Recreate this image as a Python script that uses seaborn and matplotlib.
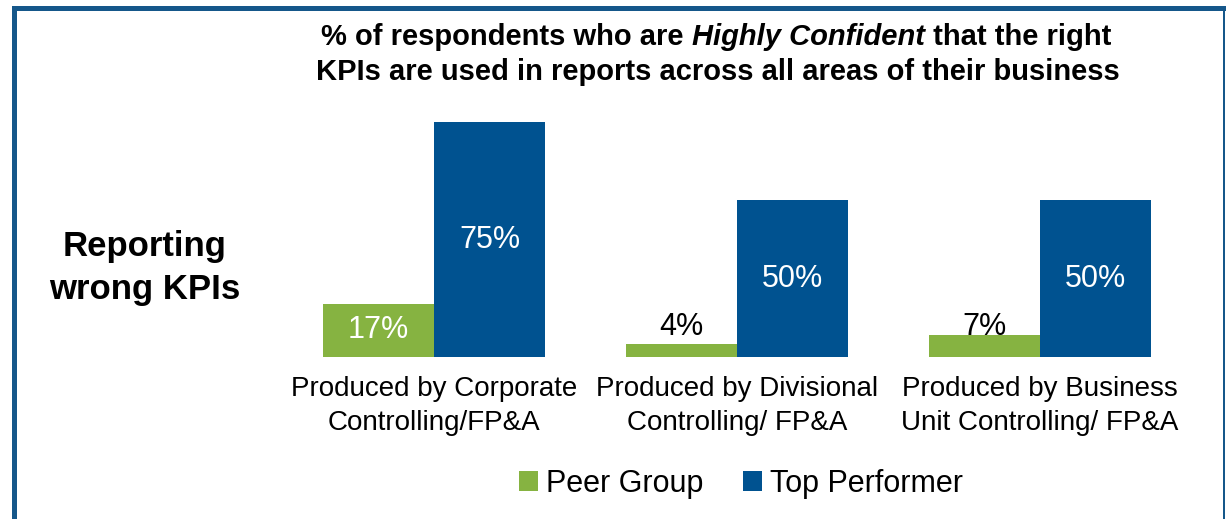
import matplotlib
matplotlib.use("Agg")
import matplotlib.pyplot as plt
import seaborn as sns
import pandas as pd
from matplotlib.patches import Rectangle

# data
categories = ["Produced by Corporate\nControlling/FP&A",
              "Produced by Divisional\nControlling/ FP&A",
              "Produced by Business\nUnit Controlling/ FP&A"]
peer_group = [17, 4, 7]
top_performer = [75, 50, 50]
series = ["Peer Group", "Top Performer"]
colors = ["#86b341", "#005290"]

df = pd.DataFrame({
    "category": categories * 2,
    "series": [series[0]] * 3 + [series[1]] * 3,
    "value": peer_group + top_performer,
})

sns.set_style("white")
plt.rcParams["font.family"] = ["Liberation Sans", "DejaVu Sans"]
plt.rcParams["text.color"] = "black"
plt.rcParams["xtick.color"] = "black"

W, H = 1226, 519
fig = plt.figure(figsize=(W / 100, H / 100), dpi=100)

def px(x, y):
    return x / W, 1 - y / H

# axes placed so that the baseline is at y=357px and 75% reaches y=122px
ax = fig.add_axes([282.5 / W, (H - 357) / H, 909 / W, 235 / H])
sns.barplot(data=df, x="category", y="value", hue="series", palette=colors,
            width=0.733, saturation=1, linewidth=0, edgecolor="none",
            ax=ax, legend=True)
ax.set_xlim(-0.5, 2.5)
ax.set_ylim(0, 75)
sns.despine(ax=ax, left=True, bottom=True)
ax.set_yticks([])
ax.set_xlabel("")
ax.set_ylabel("")
ax.tick_params(axis="x", length=0, pad=14, labelsize=20, labelcolor="black")
for lab in ax.get_xticklabels():
    lab.set_linespacing(1.4)

# value labels
for cont in ax.containers:
    for bar in cont:
        v = bar.get_height()
        cx = bar.get_x() + bar.get_width() / 2
        if v >= 15:
            ax.text(cx, v / 2, f"{v:.0f}%", ha="center", va="center",
                    color="white", fontsize=22)
        else:
            ax.text(cx, 9.5, f"{v:.0f}%", ha="center", va="center",
                    color="black", fontsize=22)

# legend below the chart
handles, labels = ax.get_legend_handles_labels()
ax.legend_.remove()
fig.legend(handles, labels, loc="center", bbox_to_anchor=px(741, 484),
           ncol=2, frameon=False, fontsize=22, handlelength=0.62,
           handleheight=0.62, handletextpad=0.25, columnspacing=1.3,
           borderpad=0, borderaxespad=0)

# title, line 1 has an italic part
fig.canvas.draw()
renderer = fig.canvas.get_renderer()
parts = [("% of respondents who are ", "normal"),
         ("Highly Confident", "italic"),
         (" that the right", "normal")]
y1 = px(0, 37)[1]
texts = []
for s, st in parts:
    t = fig.text(0, y1, s, fontsize=21, weight="bold", style=st,
                 va="center", ha="left")
    texts.append(t)
widths = [t.get_window_extent(renderer).width for t in texts]
x = 716 - sum(widths) / 2
for t, w in zip(texts, widths):
    t.set_x(x / W)
    x += w
fig.text(*px(718, 72), "KPIs are used in reports across all areas of their business",
         fontsize=21, weight="bold", ha="center", va="center")

fig.text(*px(145, 268), "Reporting\nwrong KPIs", fontsize=25, weight="bold",
         ha="center", va="center", linespacing=1.4)

# frame lines
border = "#15578a"
fig.add_artist(Rectangle(px(12, 11), (1226 - 12) / W, 5 / H,
                         transform=fig.transFigure, color=border, lw=0))
fig.add_artist(Rectangle(px(12, 519), 5 / W, (519 - 6) / H,
                         transform=fig.transFigure, color=border, lw=0))
fig.add_artist(Rectangle(px(1223, 519), 2 / W, (519 - 6) / H,
                         transform=fig.transFigure, color=border, lw=0))

fig.savefig("out.png", dpi=100)
